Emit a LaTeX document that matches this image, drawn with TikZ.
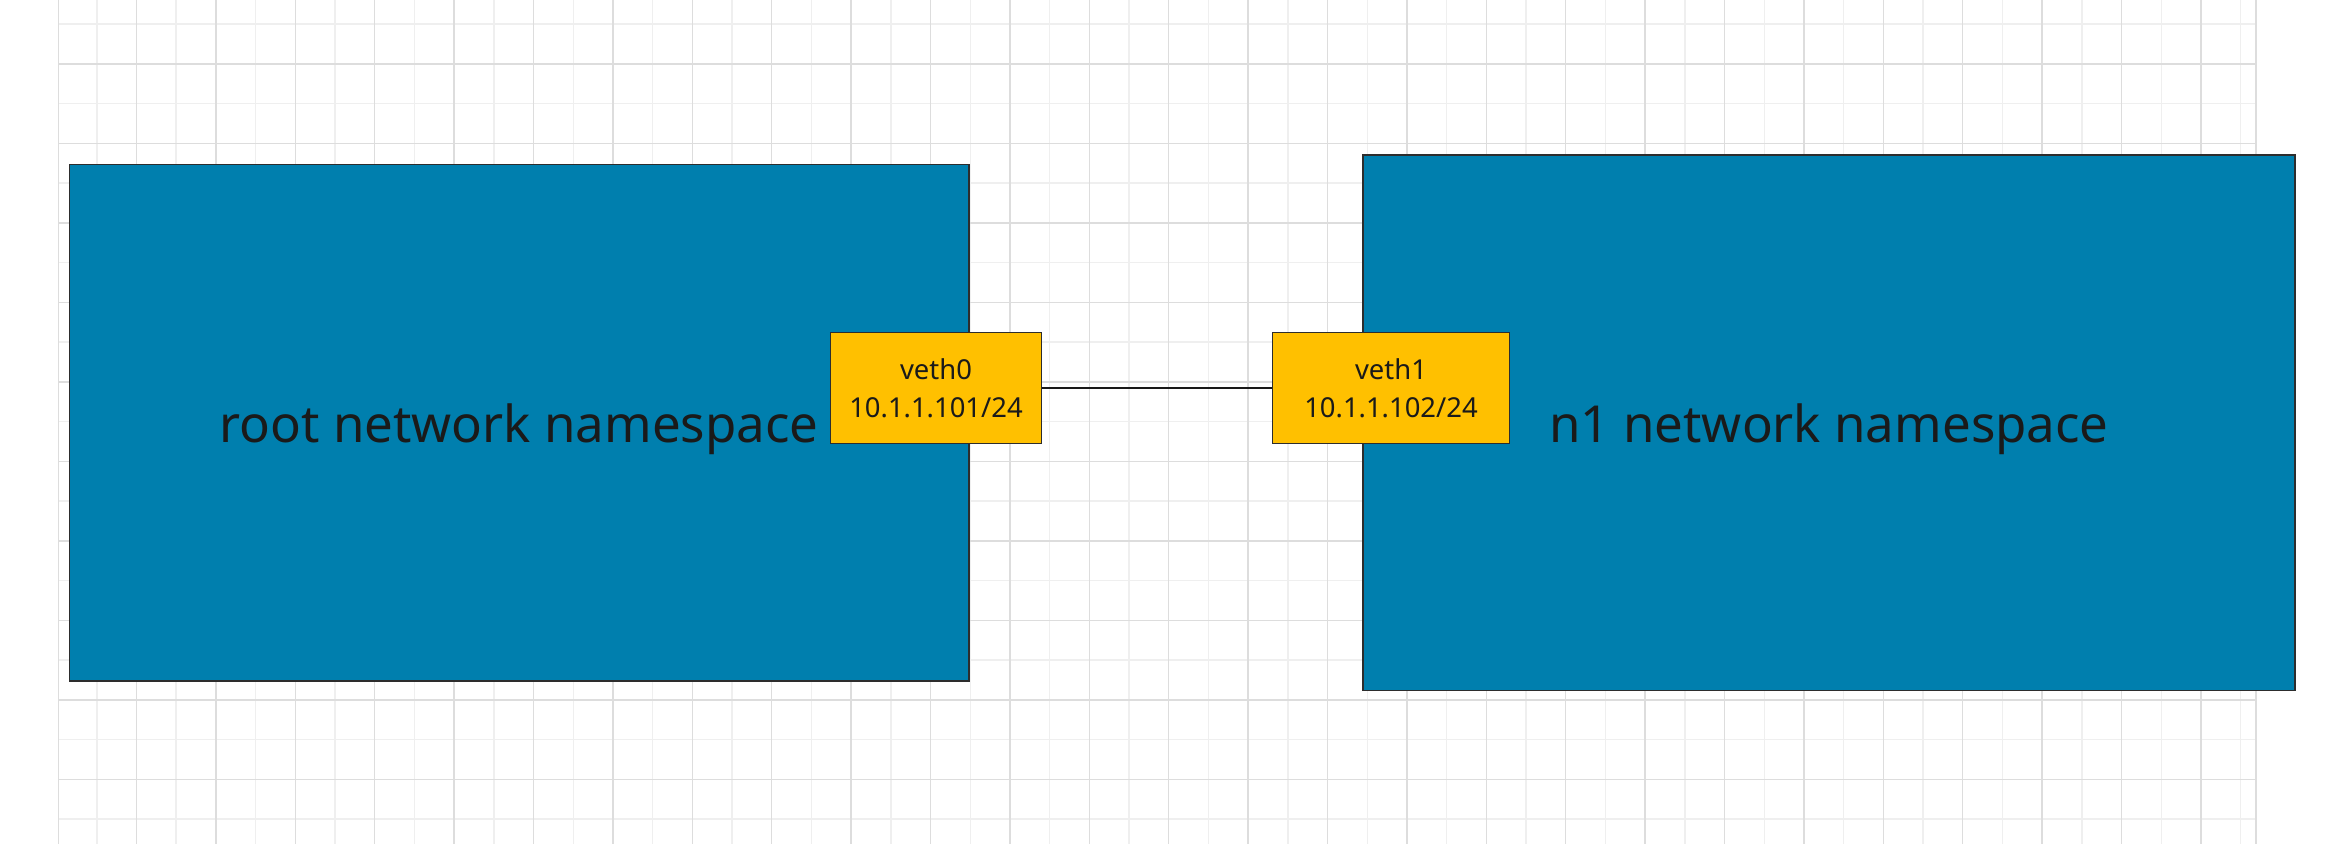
\documentclass[tikz,border=0pt]{standalone}
\usepackage{fontspec}
\setmainfont{Noto Sans}
\definecolor{nsblue}{RGB}{0,127,174}
\definecolor{vethyellow}{RGB}{255,192,0}
\definecolor{boxline}{RGB}{45,45,45}
\definecolor{txt}{RGB}{26,26,26}
\definecolor{gridmajor}{RGB}{221,221,221}
\definecolor{gridminor}{RGB}{239,239,239}
\tikzset{
  nsbox/.style={draw=boxline, fill=nsblue, line width=0.45pt, inner sep=0pt, text=txt,
    font=\fontsize{14.5pt}{17pt}\selectfont, text height=0.40cm, text depth=0cm},
  vethbox/.style={draw=boxline, fill=vethyellow, line width=0.45pt, inner sep=0pt, align=center, text=txt,
    font=\fontsize{7.8pt}{10.8pt}\selectfont, minimum height=1.106cm},
  link/.style={draw=black!90, line width=0.45pt}
}
\begin{document}
\begin{tikzpicture}[x=0.01cm,y=-0.01cm]
    \useasboundingbox (0,0) rectangle (2326,844);
    \fill[white] (0,0) rectangle (2326,844);

    \foreach \k in {-1,...,53} {
        \pgfmathsetmacro{\gx}{136.5+39.7*\k}
        \ifodd\k \draw[gridminor, line width=0.4pt] (\gx,0) -- (\gx,844); \fi
    }
    \foreach \k in {-1,...,19} {
        \pgfmathsetmacro{\gy}{63.8+39.75*\k}
        \ifodd\k \draw[gridminor, line width=0.4pt] (58.3,\gy) -- (2256,\gy); \fi
    }
    \foreach \k in {0,2,...,52} {
        \pgfmathsetmacro{\gx}{136.5+39.7*\k}
        \draw[gridmajor, line width=0.4pt] (\gx,0) -- (\gx,844);
    }
    \foreach \k in {0,2,...,18} {
        \pgfmathsetmacro{\gy}{63.8+39.75*\k}
        \draw[gridmajor, line width=0.4pt] (58.3,\gy) -- (2256,\gy);
    }
    \draw[gridmajor, line width=0.4pt] (58.3,0) -- (58.3,844);
    \draw[gridmajor, line width=0.4pt] (2256,0) -- (2256,844);

    \node[nsbox, minimum width=8.99cm, minimum height=5.161cm] (root) at (519.2,422.6) {root network namespace};
    \node[nsbox, minimum width=9.32cm, minimum height=5.353cm] (n1) at (1829,422.6) {n1 network namespace};

    \node[vethbox, minimum width=2.105cm] (veth0) at (936,388) {veth0\\10.1.1.101/24};
    \node[vethbox, minimum width=2.365cm] (veth1) at (1391,388) {veth1\\10.1.1.102/24};

    \draw[link] (veth0) -- (veth1);
\end{tikzpicture}
\end{document}
